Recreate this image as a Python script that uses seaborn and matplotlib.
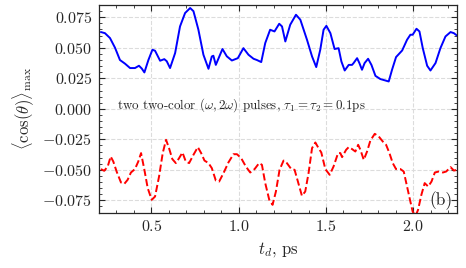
import numpy as np
import pandas as pd
import seaborn as sns
import matplotlib.pyplot as plt
from matplotlib.ticker import MultipleLocator

# courbe bleue (haut)
t_blue = [0.211, 0.234, 0.263, 0.292, 0.320, 0.349, 0.378, 0.406, 0.429, 0.445,
          0.460, 0.483, 0.506, 0.521, 0.550, 0.574, 0.588, 0.607, 0.636, 0.664,
          0.693, 0.722, 0.741, 0.769, 0.798, 0.827, 0.846, 0.855, 0.869, 0.907,
          0.932, 0.961, 0.995, 1.027, 1.056, 1.085, 1.104, 1.129, 1.152, 1.180,
          1.205, 1.232, 1.248, 1.267, 1.295, 1.328, 1.353, 1.391, 1.420, 1.444,
          1.467, 1.486, 1.502, 1.525, 1.549, 1.572, 1.588, 1.607, 1.630, 1.649,
          1.658, 1.678, 1.691, 1.706, 1.721, 1.741, 1.760, 1.783, 1.811, 1.840,
          1.859, 1.878, 1.901, 1.936, 1.964, 1.983, 1.996, 2.018, 2.035, 2.054,
          2.079, 2.098, 2.127, 2.155, 2.184, 2.213, 2.232, 2.251]
v_blue = [0.0629, 0.0620, 0.0580, 0.0500, 0.0400, 0.0370, 0.0334, 0.0334, 0.0353, 0.0330,
          0.0298, 0.0400, 0.0484, 0.0476, 0.0394, 0.0407, 0.0390, 0.0334, 0.0457, 0.0675,
          0.0785, 0.0826, 0.0800, 0.0650, 0.0443, 0.0328, 0.0429, 0.0435, 0.0360, 0.0490,
          0.0430, 0.0396, 0.0415, 0.0497, 0.0443, 0.0410, 0.0400, 0.0383, 0.0539, 0.0648,
          0.0634, 0.0697, 0.0675, 0.0552, 0.0689, 0.0771, 0.0730, 0.0566, 0.0429, 0.0342,
          0.0484, 0.0648, 0.0680, 0.0620, 0.0490, 0.0497, 0.0388, 0.0314, 0.0360, 0.0360,
          0.0375, 0.0415, 0.0375, 0.0320, 0.0375, 0.0410, 0.0360, 0.0270, 0.0244, 0.0232,
          0.0224, 0.0320, 0.0424, 0.0478, 0.0566, 0.0607, 0.0607, 0.0656, 0.0634, 0.0497,
          0.0353, 0.0314, 0.0375, 0.0497, 0.0593, 0.0629, 0.0620, 0.0599]

# courbe rouge (bas)
t_red = [0.211, 0.230, 0.250, 0.267, 0.282, 0.301, 0.326, 0.345, 0.364, 0.383,
         0.406, 0.425, 0.441, 0.460, 0.479, 0.502, 0.521, 0.544, 0.565, 0.584,
         0.601, 0.620, 0.640, 0.659, 0.678, 0.697, 0.716, 0.741, 0.766, 0.785,
         0.804, 0.827, 0.846, 0.869, 0.888, 0.913, 0.941, 0.970, 0.990, 1.014,
         1.041, 1.066, 1.091, 1.117, 1.133, 1.152, 1.175, 1.194, 1.213, 1.234,
         1.257, 1.276, 1.301, 1.320, 1.339, 1.362, 1.381, 1.400, 1.420, 1.439,
         1.457, 1.473, 1.496, 1.521, 1.543, 1.569, 1.582, 1.592, 1.615, 1.630,
         1.649, 1.668, 1.684, 1.697, 1.716, 1.735, 1.754, 1.779, 1.802, 1.825,
         1.844, 1.863, 1.882, 1.901, 1.926, 1.945, 1.964, 1.983, 1.996, 2.012,
         2.027, 2.046, 2.065, 2.085, 2.104, 2.123, 2.146, 2.169, 2.188, 2.213,
         2.232, 2.251]
v_red = [-0.0494, -0.0508, -0.0473, -0.0391, -0.0432, -0.0514, -0.0604, -0.0615, -0.0582, -0.0522,
         -0.0494, -0.0432, -0.0363, -0.0500, -0.0650, -0.0746, -0.0719, -0.0555, -0.0363, -0.0254,
         -0.0322, -0.0412, -0.0445, -0.0404, -0.0358, -0.0432, -0.0445, -0.0377, -0.0314, -0.0363,
         -0.0424, -0.0445, -0.0486, -0.0588, -0.0596, -0.0527, -0.0440, -0.0372, -0.0372, -0.0404,
         -0.0473, -0.0522, -0.0494, -0.0445, -0.0459, -0.0609, -0.0746, -0.0787, -0.0678, -0.0500,
         -0.0424, -0.0445, -0.0494, -0.0500, -0.0596, -0.0713, -0.0678, -0.0527, -0.0322, -0.0276,
         -0.0322, -0.0358, -0.0494, -0.0541, -0.0473, -0.0363, -0.0363, -0.0396, -0.0336, -0.0314,
         -0.0330, -0.0350, -0.0295, -0.0336, -0.0418, -0.0350, -0.0260, -0.0205, -0.0227, -0.0268,
         -0.0295, -0.0363, -0.0445, -0.0494, -0.0494, -0.0514, -0.0637, -0.0760, -0.0842, -0.0880,
         -0.0828, -0.0705, -0.0609, -0.0637, -0.0596, -0.0522, -0.0514, -0.0522, -0.0514, -0.0478,
         -0.0506, -0.0500]

df_blue = pd.DataFrame({"t": t_blue, "v": v_blue})
df_red = pd.DataFrame({"t": t_red, "v": v_red})

sns.set_theme(style="ticks")
plt.rcParams.update({
    "font.family": "serif",
    "font.serif": ["cmr10"],
    "mathtext.fontset": "cm",
    "axes.formatter.use_mathtext": True,
    "axes.unicode_minus": True,
    "xtick.direction": "in",
    "ytick.direction": "in",
    "xtick.top": True,
    "ytick.right": True,
    "axes.linewidth": 0.9,
})

fig = plt.figure(figsize=(4.66, 2.68), dpi=100)
ax = fig.add_axes([0.2124, 0.207, 0.7683, 0.774])

sns.lineplot(data=df_blue, x="t", y="v", ax=ax, color="blue", linewidth=1.4)
sns.lineplot(data=df_red, x="t", y="v", ax=ax, color="red", linewidth=1.4, linestyle="--")

ax.set_xlim(0.2, 2.25)
ax.set_ylim(-0.085, 0.085)
ax.xaxis.set_major_locator(MultipleLocator(0.5))
ax.xaxis.set_minor_locator(MultipleLocator(0.1))
ax.yaxis.set_major_locator(MultipleLocator(0.025))
ax.yaxis.set_minor_locator(MultipleLocator(0.005))
ax.tick_params(which="major", length=4, width=0.8, labelsize=11.5, pad=5)
ax.tick_params(which="minor", length=2, width=0.6, top=True, right=True, direction="in")
ax.grid(True, which="major", linestyle="--", color="#dcdcdc", linewidth=0.8)

ax.set_xlabel(r"$t_d$, ps", fontsize=12)
ax.set_ylabel(r"$\langle\cos(\theta)\rangle_{\max}$", fontsize=12)

ax.text(0.05, 0.52, r"two two-color $(\omega,2\omega)$ pulses, $\tau_1=\tau_2=0.1$ps",
        transform=ax.transAxes, fontsize=9.35, va="center", ha="left")
ax.text(0.955, 0.055, "(b)", transform=ax.transAxes, fontsize=12.5, va="center", ha="center")

plt.savefig("out.png", dpi=100)
